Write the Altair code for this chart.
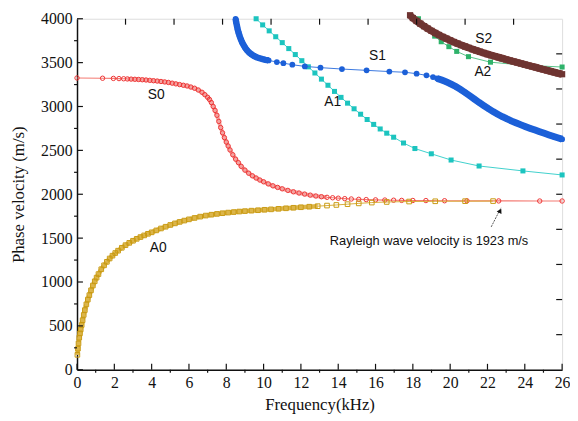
import altair as alt
import pandas as pd

# ---------------- data ----------------
s0_f = [0, 1.37, 1.95, 2.25, 2.5, 2.7, 2.9, 3.1, 3.3, 3.5, 3.7, 3.9, 4.1, 4.3, 4.5, 4.7, 4.9, 5.1, 5.3, 5.5,
        5.7, 5.9, 6.1, 6.3, 6.5, 6.7, 6.85, 7.0, 7.1, 7.2, 7.3, 7.4, 7.5, 7.6, 7.7, 7.8, 7.9, 8.0, 8.1, 8.2,
        8.35, 8.5, 8.65, 8.8, 9.0, 9.2, 9.4, 9.6, 9.8, 10.0, 10.25, 10.5, 10.75, 11.0, 11.3, 11.6, 11.9, 12.2,
        12.5, 12.8, 13.1, 13.4, 13.7, 14.0, 14.35, 14.7, 15.1, 15.5, 16.0, 16.5, 16.97, 17.4, 18.0, 18.7,
        19.7, 20.9, 22.6, 24.8, 26.0]
s0_v = [3325, 3322, 3320, 3318, 3316, 3314, 3312, 3310, 3308, 3305, 3302, 3298, 3294, 3290, 3285, 3280, 3274,
        3266, 3258, 3250, 3242, 3234, 3222, 3208, 3188, 3162, 3135, 3105, 3080, 3045, 3000, 2955, 2900, 2830,
        2760, 2700, 2645, 2595, 2550, 2505, 2450, 2400, 2360, 2318, 2275, 2240, 2210, 2185, 2162, 2142, 2118,
        2096, 2078, 2062, 2044, 2028, 2014, 2002, 1990, 1980, 1972, 1965, 1960, 1955, 1950, 1946, 1942, 1939,
        1936, 1934, 1932, 1930, 1929, 1928, 1926, 1925, 1924, 1923, 1923]

a0_f = [0.02, 0.05, 0.08, 0.12, 0.16, 0.2, 0.25, 0.3, 0.36, 0.42, 0.5, 0.58, 0.66, 0.75, 0.85, 0.95, 1.05,
        1.15, 1.3, 1.45, 1.6, 1.75, 1.9, 2.05, 2.2, 2.4, 2.6, 2.8, 3.0, 3.2, 3.4, 3.6, 3.8, 4.0, 4.25, 4.5,
        4.75, 5.0, 5.25, 5.5, 5.75, 6.0, 6.3, 6.6, 6.9, 7.2, 7.5, 7.8, 8.1, 8.4, 8.7, 9.0, 9.35, 9.7, 10.05,
        10.4, 10.8, 11.2, 11.6, 12.0, 12.45, 12.9, 13.4, 13.9, 14.5, 15.1, 15.8, 16.6, 17.8, 19.2, 20.8, 22.3]
a0_v = [170, 240, 300, 365, 415, 460, 510, 565, 625, 680, 745, 800, 850, 905, 960, 1008, 1050, 1090, 1145,
        1190, 1230, 1268, 1300, 1330, 1357, 1390, 1420, 1446, 1470, 1492, 1512, 1531, 1549, 1566, 1588, 1610,
        1630, 1650, 1668, 1685, 1700, 1714, 1730, 1745, 1757, 1767, 1776, 1784, 1791, 1797, 1803, 1808, 1813,
        1818, 1823, 1828, 1834, 1840, 1846, 1852, 1858, 1864, 1871, 1878, 1887, 1896, 1905, 1912, 1917, 1920,
        1921, 1922]

s1_f = [8.5, 8.53, 8.57, 8.61, 8.66, 8.72, 8.78, 8.85, 8.93, 9.02, 9.12, 9.23, 9.35, 9.48, 9.62, 9.78, 9.95,
        10.1, 10.27, 10.71, 11.06, 11.54, 12.21, 13.05, 14.2, 15.52, 16.74, 17.58, 18.2, 18.73, 19.08, 19.3,
        19.55, 19.8, 20.05, 20.3, 20.55, 20.8, 21.05, 21.3, 21.55, 21.8, 22.05, 22.3, 22.55, 22.8, 23.05, 23.3,
        23.55, 23.8, 24.05, 24.3, 24.55, 24.8, 25.05, 25.3, 25.55, 25.8, 26.0]
s1_v = [4000, 3960, 3920, 3880, 3840, 3800, 3765, 3730, 3700, 3668, 3640, 3615, 3595, 3577, 3562, 3550, 3540,
        3532, 3525, 3507, 3494, 3476, 3457, 3443, 3427, 3412, 3398, 3390, 3374, 3355, 3336, 3320, 3302, 3280,
        3255, 3228, 3196, 3160, 3122, 3084, 3046, 3010, 2975, 2942, 2912, 2884, 2858, 2834, 2812, 2791, 2770,
        2750, 2731, 2712, 2694, 2676, 2658, 2641, 2628]

a1_f = [9.6, 9.95, 10.3, 10.65, 11.0, 11.35, 11.7, 12.05, 12.4, 12.75, 13.1, 13.45, 13.8, 14.15, 14.5, 14.85,
        15.2, 15.55, 15.9, 16.25, 16.6, 16.97, 17.5, 18.11, 18.99, 20.05, 21.55, 23.9, 26.0]
a1_v = [4000, 3930, 3862, 3795, 3728, 3660, 3592, 3522, 3452, 3382, 3312, 3242, 3172, 3104, 3038, 2974, 2912,
        2852, 2796, 2744, 2696, 2650, 2584, 2521, 2461, 2390, 2322, 2266, 2220]

s2_f = [17.85, 18.0, 18.2, 18.4, 18.6, 18.8, 19.0, 19.2, 19.4, 19.6, 19.8, 20.0, 20.2, 20.4, 20.6, 20.8, 21.0,
        21.2, 21.4, 21.6, 21.8, 22.0, 22.2, 22.4, 22.6, 22.8, 23.0, 23.2, 23.4, 23.6, 23.8, 24.0, 24.2, 24.4,
        24.6, 24.8, 25.0, 25.2, 25.4, 25.6, 25.8, 26.0]
s2_v = [4040, 4008, 3975, 3944, 3915, 3888, 3862, 3838, 3815, 3793, 3773, 3754, 3735, 3717, 3700, 3684, 3668,
        3653, 3638, 3624, 3610, 3597, 3584, 3572, 3560, 3548, 3536, 3524, 3513, 3501, 3490, 3478, 3467, 3456,
        3445, 3433, 3422, 3411, 3400, 3389, 3378, 3368]

a2_f = [18.3, 18.75, 19.17, 19.52, 19.93, 20.35, 20.98, 22.16, 24.0, 26.0]
a2_v = [4000, 3900, 3802, 3738, 3682, 3628, 3568, 3505, 3470, 3450]

labels_txt = ["S0", "A0", "S1", "A1", "S2", "A2"]
labels_f = [4.25, 4.35, 16.1, 13.7, 21.8, 21.75]
labels_v = [3135, 1390, 3580, 3056, 3764, 3390]

note_txt = ["Rayleigh wave velocity is 1923 m/s"]
note_f = [13.55]
note_v = [1461]
arrow_f = [22.2, 22.72]
arrow_v = [1628, 1845]
arrow_head_f = [22.68]
arrow_head_v = [1812]

x_major = list(range(0, 27, 2))
x_minor = list(range(1, 26, 2))
y_major = list(range(0, 4001, 500))
y_minor = list(range(250, 4000, 500))
top_ticks = [2.6, 5.2, 7.8, 10.4, 13.0, 15.6, 18.2, 20.8, 23.4]
right_ticks = [400, 800, 1200, 1600, 2000, 2400, 2800, 3200, 3600]

W, H = 492, 356
xs = alt.Scale(domain=[0, 26], nice=False, zero=False)
ys = alt.Scale(domain=[0, 4000], nice=False, zero=False)
serif = "Liberation Serif"
sans = "Liberation Sans"

x_axis = alt.Axis(values=x_major, title="Frequency(kHz)", ticks=False, grid=False, labelOverlap=False,
                  labelFlush=False, format="d", labelFont=serif, labelFontSize=16, labelColor="#111",
                  labelPadding=5, titleFont=serif, titleFontSize=17, titleFontWeight="normal",
                  titleColor="#111", titlePadding=6, domainColor="#111", domainWidth=1.5)
y_axis = alt.Axis(values=y_major, title="Phase velocity (m/s)", ticks=False, grid=False,
                  labelOverlap=False, labelFlush=False, format="d",
                  labelFont=serif, labelFontSize=16, labelColor="#111", labelPadding=5,
                  titleFont=serif, titleFontSize=17, titleFontWeight="normal", titleColor="#111",
                  titlePadding=13, domainColor="#111", domainWidth=1.5)


def df(f, v):
    return pd.DataFrame({"f": f, "v": v})


def X():
    return alt.X("f:Q", scale=xs, axis=x_axis)


def Y():
    return alt.Y("v:Q", scale=ys, axis=y_axis)


def line_of(f, v, color, lw, lo=None, hi=None):
    c = alt.Chart(df(f, v))
    if lo is not None:
        c = c.transform_filter((alt.datum.f >= lo) & (alt.datum.f <= hi))
    return c.mark_line(color=color, strokeWidth=lw).encode(x=X(), y=Y())


def pts_of(f, v, color, shape, size, filled, marker_stroke=1.0):
    c = alt.Chart(df(f, v))
    if filled:
        m = c.mark_point(shape=shape, size=size, filled=True, color=color, opacity=1)
    else:
        m = c.mark_point(shape=shape, size=size, filled=False, color=color,
                         strokeWidth=marker_stroke, opacity=1)
    return m.encode(x=X(), y=Y())


tick_color = "#111"
xmaj = alt.Chart(pd.DataFrame({"f": x_major})).mark_rule(color=tick_color, strokeWidth=1.2).encode(
    x=X(), y=alt.value(H), y2=alt.value(H - 6))
xmin = alt.Chart(pd.DataFrame({"f": x_minor})).mark_rule(color=tick_color, strokeWidth=1.2).encode(
    x=X(), y=alt.value(H), y2=alt.value(H + 3))
ymaj = alt.Chart(pd.DataFrame({"v": y_major})).mark_rule(color=tick_color, strokeWidth=1.2).encode(
    y=Y(), x=alt.value(0), x2=alt.value(6))
ymin = alt.Chart(pd.DataFrame({"v": y_minor})).mark_rule(color=tick_color, strokeWidth=1.2).encode(
    y=Y(), x=alt.value(0), x2=alt.value(-3))
xtop = alt.Chart(pd.DataFrame({"f": top_ticks})).mark_rule(color=tick_color, strokeWidth=1.2).encode(
    x=X(), y=alt.value(0), y2=alt.value(6))
yright = alt.Chart(pd.DataFrame({"v": right_ticks})).mark_rule(color=tick_color, strokeWidth=1.2).encode(
    y=Y(), x=alt.value(W), x2=alt.value(W - 6))

s0 = (line_of(s0_f, s0_v, "#f47a72", 1.2)
      + line_of(s0_f, s0_v, "#f4a3a0", 4, 2.6, 13.5)
      + pts_of(s0_f, s0_v, "#ee3535", "circle", 20, False, 1.0))
a0 = (line_of(a0_f, a0_v, "#d8ae3a", 1.0)
      + line_of(a0_f, a0_v, "#dcb54a", 4.5, 0, 13.0)
      + pts_of(a0_f, a0_v, "#c99a12", "square", 22, False, 1.0))
s1 = (line_of(s1_f, s1_v, "#3a78e0", 1.0)
      + line_of(s1_f, s1_v, "#1c60d8", 6.5, 8.4, 10.3)
      + line_of(s1_f, s1_v, "#1c60d8", 7, 19.2, 26.1)
      + pts_of(s1_f, s1_v, "#1c60d8", "circle", 34, True))
a1 = line_of(a1_f, a1_v, "#3fd0cc", 1.0) + pts_of(a1_f, a1_v, "#1cc4bf", "square", 26, True)
a2 = line_of(a2_f, a2_v, "#55c387", 1.0) + pts_of(a2_f, a2_v, "#2eb26a", "square", 26, True)
s2 = line_of(s2_f, s2_v, "#7a3c38", 7.5) + pts_of(s2_f, s2_v, "#6e3431", "square", 40, True)

lab = alt.Chart(pd.DataFrame({"t": labels_txt, "f": labels_f, "v": labels_v})).mark_text(
    font=sans, fontSize=14, color="#111").encode(x=X(), y=Y(), text="t:N")
note = alt.Chart(pd.DataFrame({"t": note_txt, "f": note_f, "v": note_v})).mark_text(
    font=sans, fontSize=13, color="#111", align="left").encode(x=X(), y=Y(), text="t:N")
arrow = alt.Chart(df(arrow_f, arrow_v)).mark_line(color="#444", strokeWidth=0.9, strokeDash=[2, 1]).encode(
    x=X(), y=Y())
head = alt.Chart(df(arrow_head_f, arrow_head_v)).mark_point(
    shape="triangle-up", angle=28, size=30, filled=True, color="#111", opacity=1).encode(x=X(), y=Y())

chart = alt.layer(
    s0, a0, a1, s1, a2, s2, lab, note, arrow, head, xmaj, xmin, ymaj, ymin, xtop, yright
).properties(
    width=W, height=H,
    autosize=alt.AutoSizeParams(type="none"),
    padding={"left": 70, "top": 8, "right": 8, "bottom": 44},
).configure_view(stroke="#111", strokeWidth=1.5).configure(background="white")

chart.save("out.html", embed_options={"renderer": "svg", "actions": False})
